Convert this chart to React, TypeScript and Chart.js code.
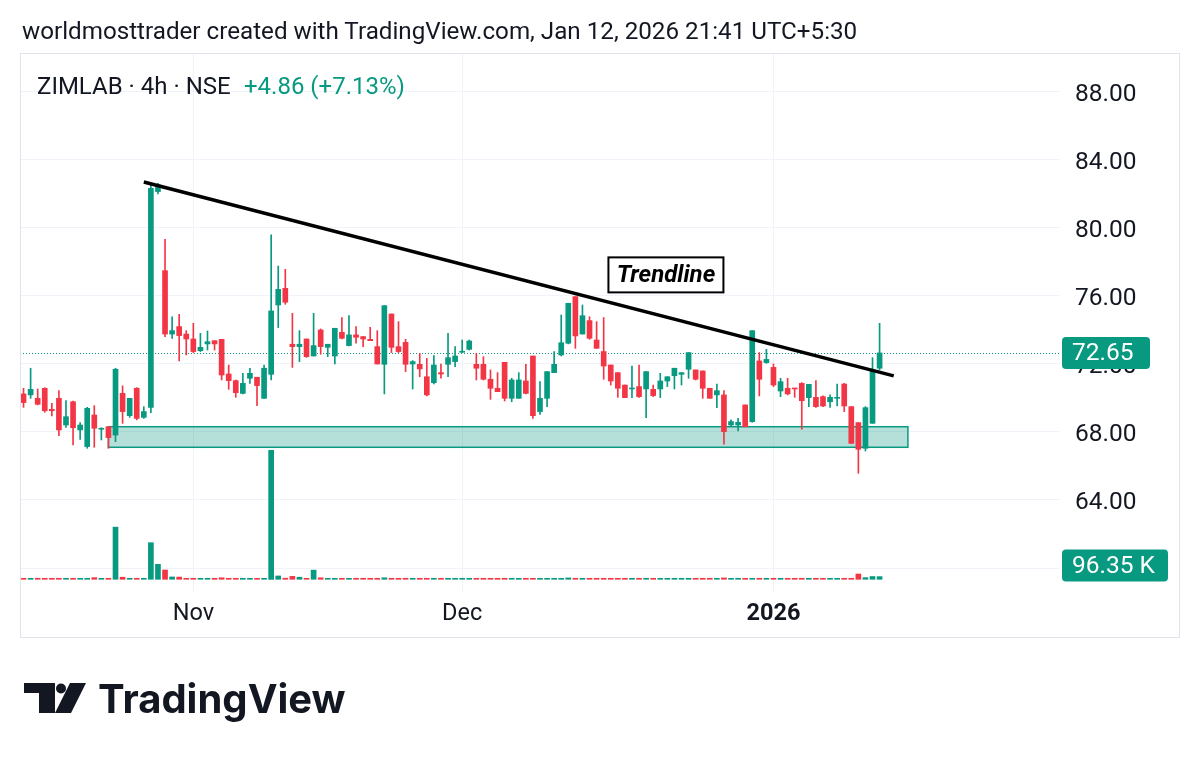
import React, { useEffect, useRef } from "react";
import { Chart, registerables } from "chart.js";

Chart.register(...registerables);

const UP = "#089981";
const DOWN = "#f23645";
const TEXT = "#131722";
const GRID = "#f0f3fa";
const FONT = "Roboto, 'Noto Sans', sans-serif";

// ---- OHLC (4h candles, ZIMLAB NSE) ----
const openP = [
  70.24, 70.18, 69.98, 70.57, 69.33, 69.98, 68.41, 69.78, 68.12, 67.14,
  69.0, 68.16, 68.31, 67.82, 70.27, 68.96, 70.57, 68.86, 69.45, 82.14,
  77.49, 73.76, 74.2, 73.76, 73.47, 72.78, 73.18, 73.37, 73.45, 71.41,
  71.02, 70.27, 71.16, 71.22, 69.98, 71.39, 75.47, 76.45, 73.16, 73.02,
  73.47, 72.47, 74.0, 72.98, 72.47, 73.86, 73.08, 73.71, 73.61, 73.45,
  73.02, 71.98, 74.94, 73.02, 73.27, 72.0, 71.98, 71.25, 70.9, 71.49,
  71.98, 72.14, 72.69, 72.86, 71.98, 71.98, 71.1, 70.57, 72.1, 69.98,
  69.98, 71.0, 72.47, 69.2, 69.98, 71.49, 72.53, 73.22, 75.96, 73.76,
  74.55, 73.41, 72.73, 71.94, 71.49, 70.76, 70.53, 70.67, 70.53, 70.51,
  70.53, 71.0, 71.31, 71.39, 71.69, 71.65, 71.59, 70.57, 70.18, 70.18,
  68.41, 68.41, 69.59, 68.61, 72.18, 72.08, 71.8, 70.41, 70.57, 70.57,
  70.86, 70.02, 70.04, 70.08, 69.78, 69.98, 70.82, 69.49, 68.55, 67.04,
  68.51, 71.75,
];
const highP = [
  70.57, 71.75, 70.53, 70.6, 69.69, 70.43, 69.84, 69.82, 68.55, 69.45,
  69.55, 68.25, 68.31, 71.75, 70.71, 69.98, 70.61, 69.49, 82.63, 82.63,
  79.33, 74.78, 74.92, 73.96, 74.39, 73.8, 73.94, 73.37, 73.45, 71.94,
  71.06, 71.45, 71.75, 71.22, 71.94, 79.59, 77.76, 77.57, 74.98, 73.96,
  73.47, 74.98, 74.06, 73.16, 74.1, 74.73, 74.84, 74.2, 73.61, 74.16,
  73.96, 75.43, 74.94, 74.49, 73.45, 72.2, 72.63, 72.33, 72.49, 72.0,
  73.8, 73.02, 73.41, 73.41, 72.63, 72.43, 71.65, 71.49, 72.1, 71.16,
  71.49, 71.98, 72.47, 70.96, 71.55, 72.73, 74.88, 75.57, 75.96, 75.47,
  74.78, 74.49, 74.73, 71.94, 71.49, 70.76, 71.88, 71.94, 71.55, 70.76,
  71.45, 71.25, 71.75, 71.49, 72.67, 71.65, 71.59, 70.57, 70.82, 70.43,
  68.71, 68.8, 69.59, 73.96, 72.67, 72.86, 72.0, 71.16, 71.16, 70.57,
  70.9, 70.8, 71.02, 70.12, 70.18, 70.82, 70.86, 69.49, 68.55, 69.49,
  72.37, 74.39,
];
const lowP = [
  69.45, 69.98, 69.59, 69.16, 68.94, 67.78, 68.27, 67.24, 67.57, 67.04,
  67.1, 67.53, 67.04, 67.43, 68.51, 68.86, 68.71, 68.8, 69.14, 82.0,
  73.61, 73.51, 72.18, 72.53, 72.67, 72.73, 72.82, 72.82, 71.06, 70.51,
  70.04, 70.24, 70.86, 69.55, 69.98, 71.06, 74.14, 75.51, 71.8, 72.14,
  72.39, 72.47, 72.57, 72.43, 72.0, 73.47, 73.06, 73.22, 73.02, 73.37,
  72.0, 70.24, 72.67, 72.67, 71.55, 70.53, 71.25, 70.12, 70.82, 71.16,
  71.25, 71.84, 72.67, 72.82, 71.06, 71.06, 69.92, 70.37, 69.82, 69.78,
  69.98, 70.24, 68.8, 69.04, 69.49, 71.49, 72.47, 73.18, 72.92, 73.76,
  73.45, 72.92, 71.1, 70.76, 70.04, 70.02, 70.02, 70.04, 68.84, 70.08,
  70.02, 70.67, 70.53, 70.76, 71.16, 71.06, 69.98, 69.98, 69.43, 67.29,
  68.31, 68.06, 68.31, 68.57, 70.12, 72.04, 70.67, 70.08, 70.18, 70.04,
  68.16, 69.49, 69.45, 69.49, 69.45, 69.53, 69.2, 67.33, 65.57, 66.88,
  68.51, 71.65,
];
const closeP = [
  69.73, 70.51, 69.63, 69.25, 69.25, 68.12, 68.9, 68.25, 68.41, 69.39,
  68.22, 68.22, 67.67, 71.69, 69.2, 69.98, 68.8, 69.2, 82.33, 82.53,
  73.76, 73.96, 73.67, 73.47, 72.73, 72.98, 73.31, 73.18, 71.35, 71.02,
  70.31, 70.86, 71.45, 70.73, 71.75, 75.12, 76.39, 75.63, 73.02, 73.16,
  72.43, 73.08, 73.02, 73.16, 74.1, 73.51, 73.71, 73.57, 73.47, 73.37,
  72.0, 75.43, 72.98, 72.73, 71.98, 72.14, 71.71, 70.18, 71.94, 71.41,
  72.37, 72.47, 72.73, 73.35, 71.75, 71.1, 70.57, 70.37, 69.98, 71.06,
  71.06, 70.27, 68.96, 69.98, 71.55, 71.98, 73.25, 75.57, 73.65, 74.84,
  73.51, 72.92, 71.88, 71.0, 70.57, 70.02, 70.57, 70.08, 71.55, 70.14,
  71.0, 71.25, 71.75, 71.49, 72.67, 71.1, 70.57, 69.98, 70.43, 68.02,
  68.61, 68.57, 68.31, 73.96, 71.1, 72.27, 70.76, 70.96, 70.24, 70.53,
  69.84, 70.8, 69.49, 69.53, 70.04, 70.02, 69.53, 67.33, 66.98, 69.43,
  71.65, 72.65,
];
// volume in thousands of shares
const volumeK = [
  28, 24, 30, 26, 22, 33, 25, 30, 27, 26,
  60, 24, 30, 1880, 75, 30, 28, 33, 1320, 540,
  335, 85, 80, 30, 28, 25, 30, 26, 55, 28,
  30, 26, 24, 28, 30, 4650, 120, 40, 105, 75,
  35, 330, 55, 28, 26, 30, 27, 25, 28, 26,
  30, 55, 28, 26, 30, 25, 27, 30, 26, 24,
  28, 30, 26, 25, 28, 30, 27, 25, 30, 26,
  28, 24, 30, 26, 25, 28, 30, 50, 28, 26,
  25, 30, 27, 26, 28, 24, 30, 26, 25, 28,
  26, 30, 28, 25, 27, 30, 26, 28, 30, 50,
  28, 26, 30, 28, 27, 25, 30, 26, 28, 25,
  30, 26, 28, 24, 27, 30, 26, 28, 190, 60,
  100, 96.35,
];

// category slots (candles + empty right margin)
const slotCount = 147;
const categories = Array.from({ length: slotCount }, (_, i) => `bar ${i + 1}`);
const timeTicks: Record<number, string> = { 24: "Nov", 62: "Dec", 106: "2026" };
const priceTicks = [60, 64, 68, 72, 76, 80, 84, 88];
const priceRange = { min: 58.53, max: 90.29 };
const volumeRange = { min: -494, max: 18973 };

const trendline = [
  { index: 17, price: 82.7 },
  { index: 123, price: 71.3 },
];
const trendLabel = { text: "Trendline", index: 90.8, price: 77.24 };
const supportZone = { from: 12, to: 125, top: 68.31, bottom: 67.1 };
const lastPrice = 72.65;
const lastVolume = 96.35;
const lastVolumeText = "96.35 K";

const candleColors = closeP.map((c, i) => (c >= openP[i] ? UP : DOWN));

function roundRect(ctx: CanvasRenderingContext2D, x: number, y: number, w: number, h: number, r: number) {
  ctx.beginPath();
  ctx.moveTo(x + r, y);
  ctx.lineTo(x + w - r, y);
  ctx.quadraticCurveTo(x + w, y, x + w, y + r);
  ctx.lineTo(x + w, y + h - r);
  ctx.quadraticCurveTo(x + w, y + h, x + w - r, y + h);
  ctx.lineTo(x + r, y + h);
  ctx.quadraticCurveTo(x, y + h, x, y + h - r);
  ctx.lineTo(x, y + r);
  ctx.quadraticCurveTo(x, y, x + r, y);
  ctx.closePath();
}

function badge(ctx: CanvasRenderingContext2D, text: string, left: number, yc: number, w: number) {
  const h = 32;
  ctx.fillStyle = UP;
  roundRect(ctx, left, yc - h / 2, w, h, 4);
  ctx.fill();
  ctx.fillStyle = "#ffffff";
  ctx.font = `24.5px ${FONT}`;
  ctx.textAlign = "left";
  ctx.textBaseline = "middle";
  ctx.fillText(text, left + 10, yc + 1);
}

const overlayPlugin = {
  id: "tvOverlay",
  beforeDatasetsDraw(chart: any) {
    const { ctx, chartArea, scales } = chart;
    const { x, y } = scales;
    ctx.save();
    // support zone (under the candles)
    const x1 = x.getPixelForValue(supportZone.from);
    const x2 = x.getPixelForValue(supportZone.to);
    const y1 = y.getPixelForValue(supportZone.top);
    const y2 = y.getPixelForValue(supportZone.bottom);
    ctx.fillStyle = "rgba(8,153,129,0.3)";
    ctx.fillRect(x1, y1, x2 - x1, y2 - y1);
    ctx.strokeStyle = UP;
    ctx.lineWidth = 1.5;
    ctx.strokeRect(x1, y1, x2 - x1, y2 - y1);
    // last price dotted line
    const py = Math.round(y.getPixelForValue(lastPrice)) + 0.5;
    ctx.strokeStyle = UP;
    ctx.lineWidth = 1;
    ctx.setLineDash([1, 2]);
    ctx.beginPath();
    ctx.moveTo(chartArea.left, py);
    ctx.lineTo(chartArea.right, py);
    ctx.stroke();
    ctx.restore();
  },
  afterDatasetsDraw(chart: any) {
    const { ctx, scales } = chart;
    const { x, y } = scales;
    ctx.save();
    // trendline text label
    const cx = x.getPixelForValue(trendLabel.index);
    const cy = y.getPixelForValue(trendLabel.price);
    const w = 115;
    const h = 35;
    ctx.fillStyle = "#ffffff";
    ctx.fillRect(cx - w / 2, cy - h / 2, w, h);
    ctx.strokeStyle = "#000000";
    ctx.lineWidth = 2;
    ctx.strokeRect(cx - w / 2, cy - h / 2, w, h);
    ctx.fillStyle = "#000000";
    ctx.font = `italic bold 24px ${FONT}`;
    ctx.textAlign = "center";
    ctx.textBaseline = "middle";
    ctx.fillText(trendLabel.text, cx, cy + 1);
    ctx.restore();
  },
  afterDraw(chart: any) {
    const { ctx, scales, chartArea } = chart;
    ctx.save();
    badge(ctx, lastPrice.toFixed(2), chartArea.right + 2, scales.y.getPixelForValue(lastPrice), 88);
    badge(ctx, lastVolumeText, chartArea.right + 2, scales.yv.getPixelForValue(lastVolume) - 11, 106);
    ctx.strokeStyle = "#e0e3eb";
    ctx.lineWidth = 1;
    ctx.strokeRect(20.5, 53.5, 1159, 584);
    ctx.restore();
  },
};

function Overlay() {
  return (
    <svg
      width={1200}
      height={760}
      style={{ position: "absolute", left: 0, top: 0, pointerEvents: "none" }}
    >
      <text x={22} y={39} fontFamily={FONT} fontSize={24.2} fill={TEXT}>
        worldmosttrader created with TradingView.com, Jan 12, 2026 21:41 UTC+5:30
      </text>
      <text x={37} y={94} fontFamily={FONT} fontSize={24} fill={TEXT}>
        ZIMLAB · 4h · NSE
      </text>
      <text x={244} y={94} fontFamily={FONT} fontSize={24} fill={UP}>
        +4.86 (+7.13%)
      </text>
      <path d="M24 683 H55 V713 H39 V693 H24 Z" fill={TEXT} />
      <circle cx={61} cy={688.5} r={5} fill={TEXT} />
      <path d="M70 683 H86 L71 713 H55 Z" fill={TEXT} />
      <text x={98} y={713} fontFamily="Inter, Roboto, sans-serif" fontWeight={700} fontSize={40} fill={TEXT}>
        TradingView
      </text>
    </svg>
  );
}

export default function App() {
  const canvasRef = useRef<HTMLCanvasElement | null>(null);

  useEffect(() => {
    const canvas = canvasRef.current;
    if (!canvas) return;
    const wicks = lowP.map((l, i) => [l, highP[i]]);
    const bodies = openP.map((o, i) => [Math.min(o, closeP[i]), Math.max(o, closeP[i])]);
    const trendData: (number | null)[] = categories.map(() => null);
    trendline.forEach((p) => {
      trendData[p.index] = p.price;
    });

    const chart = new Chart(canvas, {
      type: "bar",
      data: {
        labels: categories,
        datasets: [
          {
            type: "line",
            label: "Trendline",
            data: trendData,
            borderColor: "#000000",
            borderWidth: 3.5,
            pointRadius: 0,
            spanGaps: true,
            yAxisID: "y",
            order: 0,
          } as any,
          {
            label: "Body",
            data: bodies as any,
            backgroundColor: candleColors,
            barThickness: 5,
            minBarLength: 1,
            grouped: false,
            yAxisID: "y",
            order: 1,
          },
          {
            label: "Wick",
            data: wicks as any,
            backgroundColor: candleColors,
            barThickness: 1,
            grouped: false,
            yAxisID: "y",
            order: 2,
          },
          {
            label: "Volume",
            data: volumeK,
            backgroundColor: candleColors,
            barThickness: 5,
            minBarLength: 1,
            grouped: false,
            yAxisID: "yv",
            order: 3,
          },
        ],
      },
      options: {
        responsive: false,
        animation: false,
        devicePixelRatio: 1,
        events: [],
        layout: { padding: { left: 20, right: 20, top: 53, bottom: 122 } },
        plugins: { legend: { display: false }, tooltip: { enabled: false } },
        scales: {
          x: {
            type: "category",
            offset: true,
            border: { display: false },
            grid: { offset: false, color: GRID, drawTicks: false },
            ticks: {
              autoSkip: false,
              maxRotation: 0,
              padding: 7,
              color: TEXT,
              font: (ctx: any) => ({
                family: FONT,
                size: 23.5,
                weight: ctx.tick && ctx.tick.label === "2026" ? "bold" : "normal",
              }),
              callback: (value: any) => timeTicks[value as number] ?? "",
            },
            afterBuildTicks: (scale: any) => {
              scale.ticks = scale.ticks.filter((t: any) => timeTicks[t.value] !== undefined);
            },
            afterFit: (scale: any) => {
              scale.height = 45;
            },
          },
          y: {
            type: "linear",
            position: "right",
            min: priceRange.min,
            max: priceRange.max,
            border: { display: false },
            grid: { color: GRID, drawTicks: false },
            ticks: {
              padding: 15,
              labelOffset: 3,
              color: TEXT,
              font: { family: FONT, size: 24.5 },
              callback: (v: any) => Number(v).toFixed(2),
            },
            afterBuildTicks: (scale: any) => {
              scale.ticks = priceTicks.map((v) => ({ value: v }));
            },
            afterFit: (scale: any) => {
              scale.width = 120;
            },
          },
          yv: {
            type: "linear",
            display: false,
            min: volumeRange.min,
            max: volumeRange.max,
          },
        },
      },
      plugins: [overlayPlugin],
    });
    return () => chart.destroy();
  }, []);

  return (
    <div
      style={{
        position: "fixed",
        left: 0,
        top: 0,
        width: 1200,
        height: 760,
        background: "#ffffff",
        overflow: "hidden",
      }}
    >
      <canvas ref={canvasRef} width={1200} height={760} style={{ position: "absolute", left: 0, top: 0 }} />
      <Overlay />
    </div>
  );
}
